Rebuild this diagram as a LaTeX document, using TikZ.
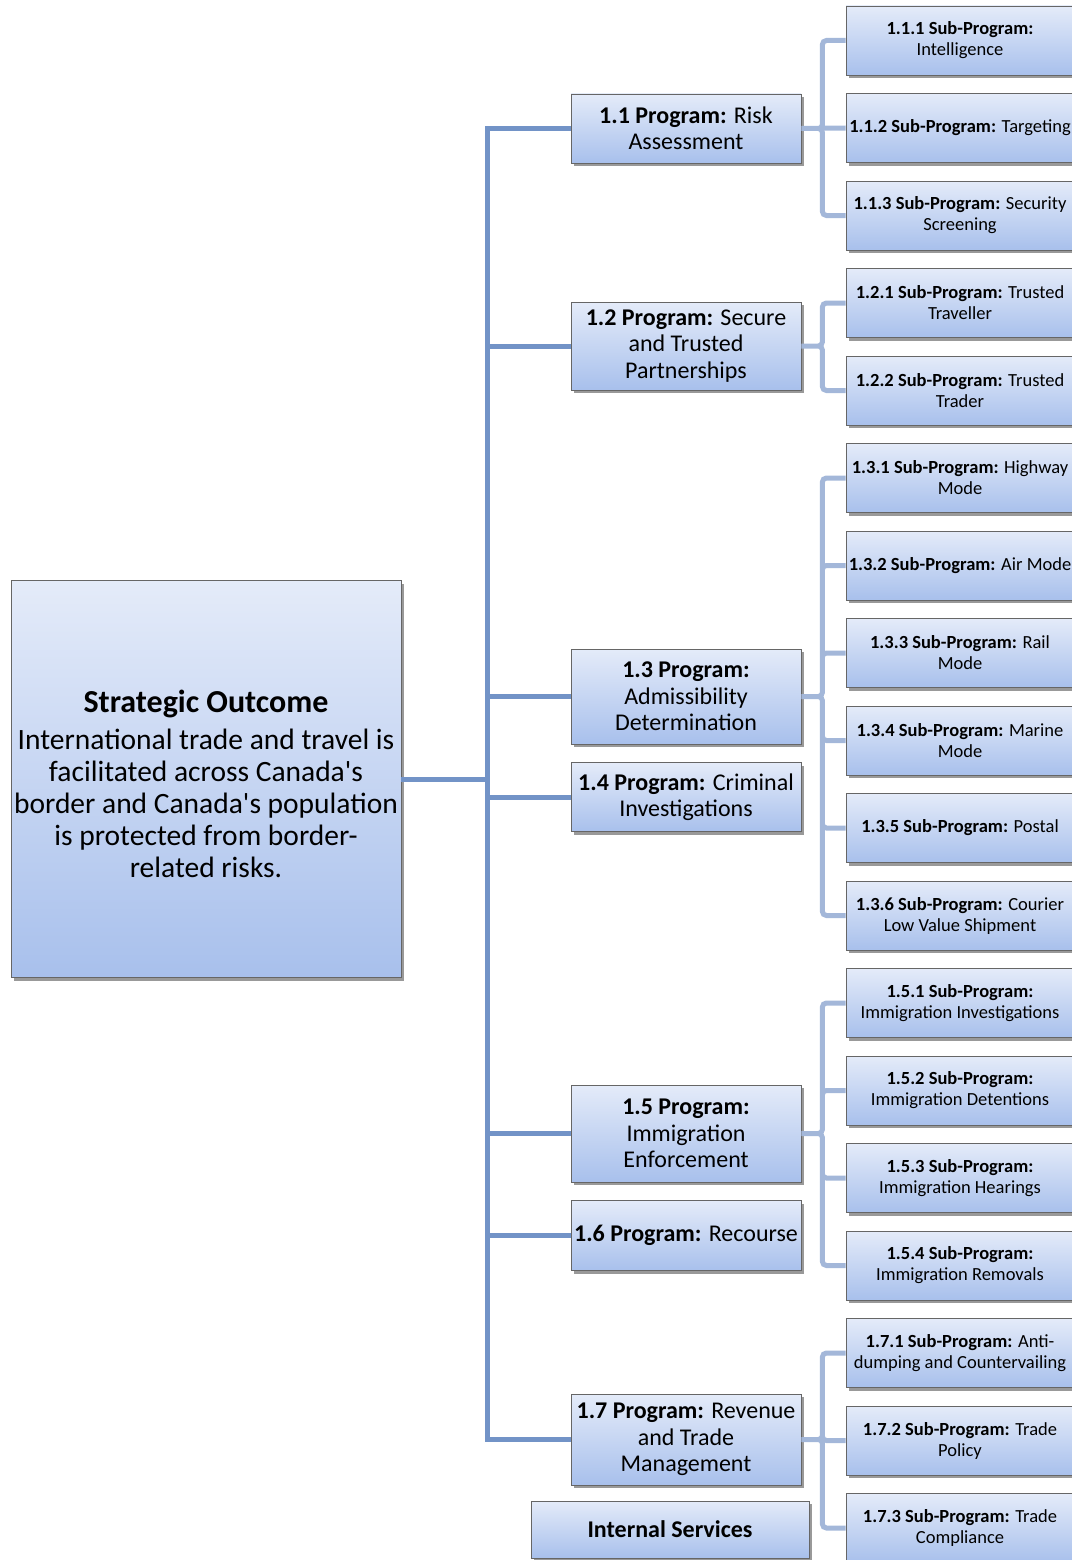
\documentclass[tikz,border=0pt]{standalone}
\usepackage{fontspec}
\setmainfont{Carlito}
\usepackage{tikz}
\usetikzlibrary{positioning}
\usetikzlibrary{shadows}
\definecolor{trunkblue}{RGB}{114,147,199}
\definecolor{subblue}{RGB}{163,183,217}
\definecolor{boxtop}{RGB}{228,235,249}
\definecolor{boxbot}{RGB}{168,192,236}

\begin{document}
\begin{tikzpicture}[x=1pt,y=-1pt,
      node distance=17.7pt and 0pt,
      basebox/.style={draw=black!60,line width=0.8pt,top color=boxtop,bottom color=boxbot,
        align=center,inner sep=1pt,
        drop shadow={shadow xshift=2.5pt,shadow yshift=-3pt,opacity=0.4,fill=black}},
      sonode/.style={basebox,minimum width=390pt,minimum height=397pt,font=\fontsize{29.5}{32}\selectfont},
      prognode/.style={basebox,minimum width=230pt,font=\fontsize{24}{26.5}\selectfont},
      subnode/.style={basebox,minimum width=228pt,minimum height=69pt,font=\fontsize{18.5}{21}\selectfont},
      trunk/.style={trunkblue,line width=5pt},
      subline/.style={subblue,line width=5pt,rounded corners=4pt}
      ]

      \useasboundingbox (0,0) rectangle (1071,1560);

      % strategic outcome
      \node[sonode] (so) at (206,779) {{\rule{0pt}{33pt}\fontsize{32}{36}\selectfont\bfseries Strategic Outcome}\\[5pt]
        International trade and travel is\\facilitated across Canada\textquotesingle s\\border and Canada\textquotesingle s population\\is protected from border-\\related risks.};

      % programs
      \node[prognode, minimum height=69pt] (p11) at (686,128.5) {\textbf{1.1 Program:} Risk\\Assessment};
      \node[prognode, minimum height=88pt] (p12) at (686,346) {\textbf{1.2 Program:} Secure\\and Trusted\\Partnerships};
      \node[prognode, minimum height=95pt] (p13) at (686,696.5) {\textbf{1.3 Program:}\\Admissibility\\Determination};
      \node[prognode, minimum height=69pt, below=18pt of p13] (p14) {\textbf{1.4 Program:} Criminal\\Investigations};
      \node[prognode, minimum height=97pt] (p15) at (686,1133.5) {\textbf{1.5 Program:}\\Immigration\\Enforcement};
      \node[prognode, minimum height=70pt, below=18pt of p15] (p16) {\textbf{1.6 Program:} Recourse};
      \node[prognode, minimum height=91pt] (p17) at (686,1439.5) {\textbf{1.7 Program:} Revenue\\and Trade\\Management};
      \node[prognode, minimum width=278pt, minimum height=57pt] (is) at (670,1529.5) {\textbf{Internal Services}};

      % sub-programs
      \node[subnode] (s111) at (960,40.5) {\textbf{1.1.1 Sub-Program:}\\Intelligence};
      \node[subnode, below=of s111] (s112) {\textbf{1.1.2 Sub-Program:} Targeting};
      \node[subnode, below=of s112] (s113) {\textbf{1.1.3 Sub-Program:} Security\\Screening};
      \node[subnode, below=of s113] (s121) {\textbf{1.2.1 Sub-Program:} Trusted\\Traveller};
      \node[subnode, below=of s121] (s122) {\textbf{1.2.2 Sub-Program:} Trusted\\Trader};
      \node[subnode, below=of s122] (s131) {\textbf{1.3.1 Sub-Program:} Highway\\Mode};
      \node[subnode, below=of s131] (s132) {\textbf{1.3.2 Sub-Program:} Air Mode};
      \node[subnode, below=of s132] (s133) {\textbf{1.3.3 Sub-Program:} Rail\\Mode};
      \node[subnode, below=of s133] (s134) {\textbf{1.3.4 Sub-Program:} Marine\\Mode};
      \node[subnode, below=of s134] (s135) {\textbf{1.3.5 Sub-Program:} Postal};
      \node[subnode, below=of s135] (s136) {\textbf{1.3.6 Sub-Program:} Courier\\Low Value Shipment};
      \node[subnode, below=of s136] (s151) {\textbf{1.5.1 Sub-Program:}\\Immigration Investigations};
      \node[subnode, below=of s151] (s152) {\textbf{1.5.2 Sub-Program:}\\Immigration Detentions};
      \node[subnode, below=of s152] (s153) {\textbf{1.5.3 Sub-Program:}\\Immigration Hearings};
      \node[subnode, below=of s153] (s154) {\textbf{1.5.4 Sub-Program:}\\Immigration Removals};
      \node[subnode, below=of s154] (s171) {\textbf{1.7.1 Sub-Program:} Anti-\\dumping and Countervailing};
      \node[subnode, below=of s171] (s172) {\textbf{1.7.2 Sub-Program:} Trade\\Policy};
      \node[subnode, below=of s172] (s173) {\textbf{1.7.3 Sub-Program:} Trade\\Compliance};

      % trunk
      \coordinate (t) at (487,779);
      \draw[trunk] (so.east) -- (t)
      (p11.west) -| (t)
      (p12.west) -| (t)
      (p13.west) -| (t)
      (p14.west) -| (t)
      (p15.west) -| (t)
      (p16.west) -| (t)
      (p17.west) -| (t);

      % branches
      \draw[subline] (p11.east) -- ++(21,0) |- (s111.west)
      (p11.east) -- (s112.west)
      (p11.east) -- ++(21,0) |- (s113.west);
      \draw[subline] (p12.east) -- ++(21,0) |- (s121.west)
      (p12.east) -- ++(21,0) |- (s122.west);
      \draw[subline] (p13.east) -- ++(21,0) |- (s131.west)
      (p13.east) -- ++(21,0) |- (s132.west)
      (p13.east) -- ++(21,0) |- (s133.west)
      (p13.east) -- ++(21,0) |- (s134.west)
      (p13.east) -- ++(21,0) |- (s135.west)
      (p13.east) -- ++(21,0) |- (s136.west);
      \draw[subline] (p15.east) -- ++(21,0) |- (s151.west)
      (p15.east) -- ++(21,0) |- (s152.west)
      (p15.east) -- ++(21,0) |- (s153.west)
      (p15.east) -- ++(21,0) |- (s154.west);
      \draw[subline] (p17.east) -- ++(21,0) |- (s171.west)
      (p17.east) -- ++(21,0) |- (s172.west)
      (p17.east) -- ++(21,0) |- (s173.west);

    \end{tikzpicture}
\end{document}
